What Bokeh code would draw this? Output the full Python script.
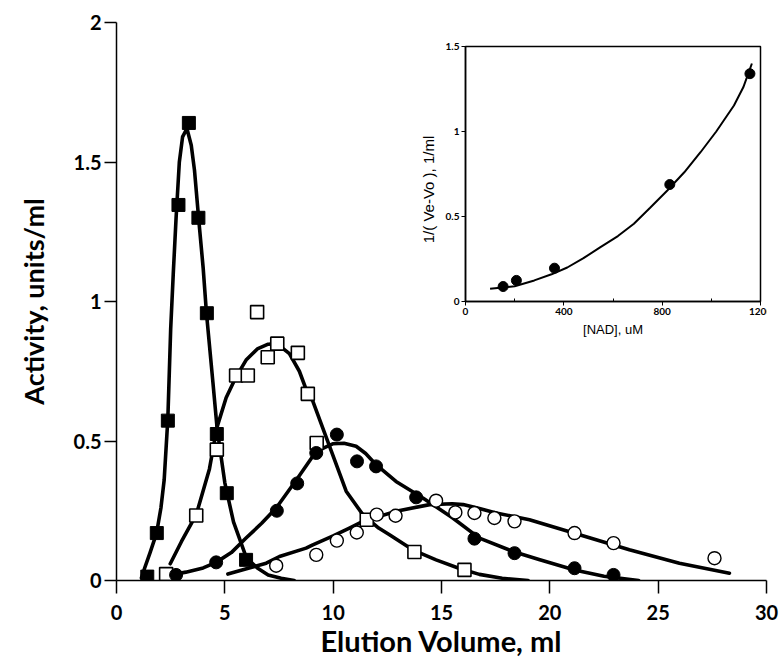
import math
from bokeh.plotting import figure
from bokeh.models import Range1d, LinearAxis, FixedTicker, Label
from bokeh.embed import file_html
from bokeh.resources import INLINE

# ---------------- main panel data ----------------
x_ticks = [0, 5, 10, 15, 20, 25, 30]
x_tick_labels = ["0", "5", "10", "15", "20", "25", "30"]
y_ticks = [0, 0.5, 1, 1.5, 2]
y_tick_labels = ["0", "0.5", "1", "1.5", "2"]

# filled squares
s1_x = [1.42, 1.86, 2.37, 2.86, 3.34, 3.78, 4.17, 4.63, 5.09, 5.98]
s1_y = [0.014, 0.17, 0.573, 1.346, 1.64, 1.30, 0.958, 0.525, 0.313, 0.074]
s1_cx = [1.15, 1.3, 1.55, 1.85, 2.05, 2.2, 2.37, 2.5, 2.62, 2.75, 2.9, 3.05, 3.25, 3.45,
         3.6, 3.8, 4.0, 4.15, 4.45, 4.65, 5.0, 5.4, 6.0, 6.5, 7.0, 7.6, 8.2]
s1_cy = [0.01, 0.045, 0.1, 0.17, 0.26, 0.36, 0.58, 0.9, 1.1, 1.3, 1.5, 1.59, 1.62, 1.56,
         1.47, 1.29, 1.12, 0.96, 0.71, 0.54, 0.35, 0.21, 0.08, 0.045, 0.02, 0.008, 0.0]

# open squares
s2_x = [2.29, 3.68, 4.63, 5.52, 6.06, 6.49, 6.98, 7.42, 8.37, 8.83, 9.24, 11.55, 13.75, 16.06]
s2_y = [0.023, 0.233, 0.469, 0.735, 0.735, 0.962, 0.80, 0.849, 0.816, 0.669, 0.493, 0.218, 0.102, 0.038]
s2_cx = [2.48, 3.0, 3.68, 4.29, 4.63, 5.06, 5.52, 5.98, 6.5, 7.0, 7.4, 7.98, 8.44, 8.83, 9.06,
         9.86, 10.6, 11.37, 12.1, 12.6, 13.67, 14.75, 15.8, 16.75, 17.8, 19.0]
s2_cy = [0.06, 0.14, 0.236, 0.40, 0.547, 0.655, 0.73, 0.79, 0.83, 0.847, 0.849, 0.813, 0.75, 0.669, 0.643,
         0.475, 0.32, 0.236, 0.188, 0.164, 0.11, 0.074, 0.044, 0.022, 0.008, 0.0]

# filled circles
s3_x = [2.75, 4.6, 7.4, 8.34, 9.22, 10.17, 11.1, 11.98, 13.83, 16.52, 18.37, 21.14, 22.94]
s3_y = [0.02, 0.065, 0.25, 0.348, 0.457, 0.523, 0.427, 0.409, 0.298, 0.15, 0.098, 0.044, 0.02]
s3_cx = [2.52, 3.2, 4.0, 4.6, 5.3, 5.98, 6.7, 7.37, 8.3, 9.22, 9.98, 10.5, 11.06, 11.5, 11.98,
         12.9, 14.14, 15.52, 16.75, 18.3, 19.5, 21.14, 22.5, 24.1]
s3_cy = [0.02, 0.03, 0.045, 0.065, 0.1, 0.152, 0.205, 0.26, 0.36, 0.463, 0.49, 0.492, 0.481, 0.455, 0.415,
         0.355, 0.296, 0.224, 0.152, 0.104, 0.075, 0.038, 0.015, 0.0]

# open circles
s4_x = [7.37, 9.22, 10.17, 11.09, 12.01, 12.88, 14.75, 15.64, 16.52, 17.44, 18.37, 21.14, 22.94, 27.6]
s4_y = [0.053, 0.092, 0.143, 0.172, 0.236, 0.232, 0.286, 0.244, 0.242, 0.224, 0.212, 0.17, 0.134, 0.08]
s4_cx = [5.14, 6.0, 6.91, 7.52, 8.75, 9.06, 10.0, 10.75, 11.37, 12.91, 14.45, 15.5, 16.0, 16.75,
         17.52, 19.06, 21.37, 23.67, 25.98, 28.29]
s4_cy = [0.023, 0.042, 0.062, 0.086, 0.116, 0.128, 0.16, 0.188, 0.212, 0.248, 0.272, 0.275, 0.272, 0.258,
         0.242, 0.218, 0.164, 0.11, 0.062, 0.026]

# ---------------- inset data ----------------
in_x_ticks = [0, 400, 800, 1200]
in_x_minor = [200, 600, 1000]
in_y_ticks = [0, 0.5, 1, 1.5]
in_y_tick_labels = ["0", "0.5", "1", "1.5"]
in_x = [153, 207, 362, 831, 1157]
in_y = [0.088, 0.124, 0.196, 0.688, 1.34]
in_cx = [100, 200, 280, 350, 414, 480, 549, 620, 685, 750, 821, 890, 956, 1020, 1092, 1130, 1165]
in_cy = [0.075, 0.09, 0.124, 0.16, 0.20, 0.255, 0.32, 0.385, 0.457, 0.55, 0.653, 0.76, 0.878, 1.0,
         1.153, 1.26, 1.40]
in_y_label = "1/( Ve-Vo ), 1/ml"
in_x_label = "[NAD], uM"

# ---------------- layout ----------------
FL, FT, FR, FB = 116, 22, 14, 77
FW, FH = 650, 558
# inset box position inside frame (px from frame left / top)
IL, IR, IT, IB = 349, 644, 24, 279
# inset y-label centre (px from frame left / bottom)
ILX, ILY = 312, 391

FONT = "Lato"

p = figure(frame_width=FW, frame_height=FH,
           x_range=Range1d(x_ticks[0], x_ticks[-1]), y_range=Range1d(y_ticks[0], y_ticks[-1]),
           output_backend="svg", toolbar_location=None,
           min_border_left=FL, min_border_right=FR, min_border_top=FT, min_border_bottom=FB)
p.outline_line_color = None
p.xgrid.visible = False
p.ygrid.visible = False
p.background_fill_color = "white"
p.border_fill_color = "white"

xa = p.xaxis[0]
ya = p.yaxis[0]
xa.ticker = FixedTicker(ticks=x_ticks)
ya.ticker = FixedTicker(ticks=y_ticks)
xa.major_label_overrides = {t: l for t, l in zip(x_ticks, x_tick_labels)}
ya.major_label_overrides = {t: l for t, l in zip(y_ticks, y_tick_labels)}
for ax in (xa, ya):
    ax.minor_tick_line_color = None
    ax.axis_line_width = 1.5
    ax.major_tick_line_width = 1.5
    ax.axis_line_color = "black"
    ax.major_tick_line_color = "black"
    ax.major_tick_in = 0
    ax.major_label_text_font = FONT
    ax.major_label_text_font_style = "bold"
    ax.major_label_text_font_size = "20px"
    ax.major_label_text_color = "black"
    ax.axis_label_text_font = FONT
    ax.axis_label_text_font_style = "bold"
    ax.axis_label_text_color = "black"
xa.major_tick_out = 13
xa.major_label_standoff = 11
xa.axis_label = "Elution Volume, ml"
xa.axis_label_standoff = 0
xa.axis_label_text_font_size = "29px"
ya.major_tick_out = 12
ya.major_label_standoff = 3
ya.axis_label = "Activity, units/ml"
ya.axis_label_standoff = 21
ya.axis_label_text_font_size = "27px"

# curves
for cx, cy in ((s1_cx, s1_cy), (s2_cx, s2_cy), (s3_cx, s3_cy), (s4_cx, s4_cy)):
    p.line(cx, cy, line_color="black", line_width=3.6, line_join="round", line_cap="round")

p.scatter(s1_x, s1_y, marker="square", size=13, fill_color="black", line_color="black")
p.scatter(s2_x, s2_y, marker="square", size=13, fill_color="white", line_color="black", line_width=1.6)
p.scatter(s3_x, s3_y, marker="circle", size=13, fill_color="black", line_color="black")
p.scatter(s4_x, s4_y, marker="circle", size=13, fill_color="white", line_color="black", line_width=1.4)

# ---------------- inset ----------------
ix_span = (in_x_ticks[-1] - in_x_ticks[0]) * FW / (IR - IL)
ix_start = in_x_ticks[0] - IL / FW * ix_span
iy_span = (in_y_ticks[-1] - in_y_ticks[0]) * FH / (IB - IT)
iy_start = in_y_ticks[0] - (FH - IB) / FH * iy_span
p.extra_x_ranges = {"ix": Range1d(ix_start, ix_start + ix_span)}
p.extra_y_ranges = {"iy": Range1d(iy_start, iy_start + iy_span)}

p.quad(left=[in_x_ticks[0]], right=[in_x_ticks[-1]], bottom=[in_y_ticks[0]], top=[in_y_ticks[-1]],
       x_range_name="ix", y_range_name="iy", fill_color="white", line_color="black", line_width=1.5)

iax = LinearAxis(x_range_name="ix", y_range_name="iy", fixed_location=in_y_ticks[0],
                 bounds=(in_x_ticks[0], in_x_ticks[-1]),
                 ticker=FixedTicker(ticks=in_x_ticks, minor_ticks=in_x_minor),
                 axis_label=in_x_label)
iay = LinearAxis(x_range_name="ix", y_range_name="iy", fixed_location=in_x_ticks[0],
                 bounds=(in_y_ticks[0], in_y_ticks[-1]),
                 ticker=FixedTicker(ticks=in_y_ticks))
iay.major_label_overrides = {t: l for t, l in zip(in_y_ticks, in_y_tick_labels)}
for ax in (iax, iay):
    ax.axis_line_width = 1.5
    ax.major_tick_out = 4
    ax.major_tick_in = 0
    ax.minor_tick_in = 3
    ax.minor_tick_out = 0
    ax.major_label_standoff = 2
    ax.major_label_text_font = FONT
    ax.major_label_text_font_style = "bold"
    ax.major_label_text_font_size = "10px"
    ax.major_label_text_color = "black"
    ax.axis_label_text_font = "Liberation Sans"
    ax.axis_label_text_font_style = "normal"
    ax.axis_label_text_color = "black"
iax.axis_label_text_font_size = "13px"
iax.axis_label_standoff = 4
p.add_layout(iax, "below")
p.add_layout(iay, "left")

p.add_layout(Label(x=ILX, y=ILY, x_units="screen", y_units="screen", text=in_y_label,
                   angle=math.pi / 2, text_align="center", text_baseline="middle",
                   text_font="Liberation Sans", text_font_size="15px", text_color="black"))

p.line(in_cx, in_cy, x_range_name="ix", y_range_name="iy", line_color="black", line_width=2)
p.scatter(in_x, in_y, x_range_name="ix", y_range_name="iy", marker="circle", size=10,
          fill_color="black", line_color="black")

open("out.html", "w").write(file_html(p, INLINE))
